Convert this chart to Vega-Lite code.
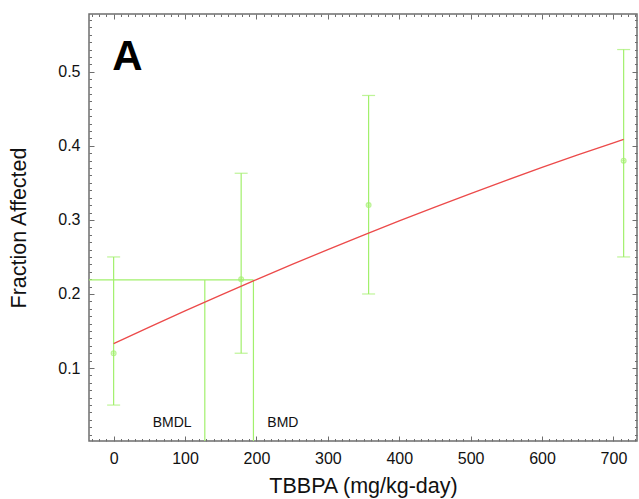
{
  "$schema": "https://vega.github.io/schema/vega-lite/v6.json",
  "width": 548,
  "height": 427,
  "autosize": {"type": "none"},
  "padding": {"left": 89, "top": 14, "right": 2, "bottom": 58},
  "background": "white",
  "config": {
    "view": {"stroke": "#6e6e6e", "strokeWidth": 1.5},
    "font": "Liberation Sans",
    "axis": {"grid": false, "domain": false, "tickColor": "#6e6e6e", "labelFont": "Liberation Sans", "titleFont": "Liberation Sans", "labelColor": "#111", "titleColor": "#111", "labelFontSize": 16, "titleFontSize": 21.5, "titleFontWeight": "normal"}
  },
  "datasets": {
    "pts": [
      {"dose": 0, "frac": 0.12, "lo": 0.05, "hi": 0.25},
      {"dose": 178.6, "frac": 0.22, "lo": 0.12, "hi": 0.363},
      {"dose": 357.1, "frac": 0.32, "lo": 0.2, "hi": 0.468},
      {"dose": 714.3, "frac": 0.38, "lo": 0.25, "hi": 0.53}
    ],
    "fit": [
      {"dose": 0, "frac": 0.133},
      {"dose": 50, "frac": 0.1553},
      {"dose": 100, "frac": 0.1771},
      {"dose": 150, "frac": 0.1985},
      {"dose": 200, "frac": 0.2194},
      {"dose": 250, "frac": 0.2399},
      {"dose": 300, "frac": 0.2599},
      {"dose": 350, "frac": 0.2795},
      {"dose": 400, "frac": 0.2987},
      {"dose": 450, "frac": 0.3174},
      {"dose": 500, "frac": 0.3356},
      {"dose": 550, "frac": 0.3534},
      {"dose": 600, "frac": 0.3708},
      {"dose": 650, "frac": 0.3877},
      {"dose": 700, "frac": 0.4041},
      {"dose": 714.3, "frac": 0.4087}
    ],
    "bmr": [{"x1": -34.5, "x2": 195.8, "y": 0.219}],
    "bmdlines": [
      {"name": "BMDL", "dose": 127.7, "y1": 0.0015, "y2": 0.219},
      {"name": "BMD", "dose": 195.8, "y1": 0.0015, "y2": 0.219}
    ],
    "labels": [
      {"text": "BMDL", "dose": 82, "frac": 0.026},
      {"text": "BMD", "dose": 237, "frac": 0.026}
    ],
    "panel": [{"text": "A", "dose": -2, "frac": 0.503}]
  },
  "resolve": {"axis": {"x": "independent", "y": "independent"}},
  "layer": [
    {
      "data": {"name": "pts"},
      "mark": {"type": "rule", "color": "#a2f06c", "strokeWidth": 1.2},
      "encoding": {
        "x": {"field": "dose", "type": "quantitative", "scale": {"domain": [-34.5, 733], "nice": false, "zero": false},
          "axis": {"orient": "bottom", "values": [0, 100, 200, 300, 400, 500, 600, 700], "tickSize": -5, "labelPadding": 14, "title": "TBBPA (mg/kg-day)", "titlePadding": 9, "labelFlush": false}},
        "y": {"field": "lo", "type": "quantitative", "scale": {"domain": [0.0015, 0.578], "nice": false, "zero": false},
          "axis": {"orient": "left", "values": [0.1, 0.2, 0.3, 0.4, 0.5], "format": ".1f", "tickSize": -5, "labelPadding": 14, "title": "Fraction Affected", "titlePadding": 27, "labelFlush": false}},
        "y2": {"field": "hi"}
      }
    },
    {
      "data": {"name": "pts"},
      "mark": {"type": "tick", "color": "#a2f06c", "thickness": 1.2, "size": 13, "orient": "horizontal"},
      "encoding": {
        "x": {"field": "dose", "type": "quantitative", "scale": {"domain": [-34.5, 733], "nice": false, "zero": false},
          "axis": {"orient": "bottom", "values": [-30, -20, -10, 10, 20, 30, 40, 50, 60, 70, 80, 90, 110, 120, 130, 140, 150, 160, 170, 180, 190, 210, 220, 230, 240, 250, 260, 270, 280, 290, 310, 320, 330, 340, 350, 360, 370, 380, 390, 410, 420, 430, 440, 450, 460, 470, 480, 490, 510, 520, 530, 540, 550, 560, 570, 580, 590, 610, 620, 630, 640, 650, 660, 670, 680, 690, 710, 720, 730], "tickSize": -2.5, "labels": false, "title": null}},
        "y": {"field": "hi", "type": "quantitative", "scale": {"domain": [0.0015, 0.578], "nice": false, "zero": false},
          "axis": {"orient": "left", "values": [0.01, 0.02, 0.03, 0.04, 0.05, 0.06, 0.07, 0.08, 0.09, 0.11, 0.12, 0.13, 0.14, 0.15, 0.16, 0.17, 0.18, 0.19, 0.21, 0.22, 0.23, 0.24, 0.25, 0.26, 0.27, 0.28, 0.29, 0.31, 0.32, 0.33, 0.34, 0.35, 0.36, 0.37, 0.38, 0.39, 0.41, 0.42, 0.43, 0.44, 0.45, 0.46, 0.47, 0.48, 0.49, 0.51, 0.52, 0.53, 0.54, 0.55, 0.56, 0.57], "tickSize": -2.5, "labels": false, "title": null}}
      }
    },
    {
      "data": {"name": "pts"},
      "mark": {"type": "tick", "color": "#a2f06c", "thickness": 1.2, "size": 13, "orient": "horizontal"},
      "encoding": {
        "x": {"field": "dose", "type": "quantitative", "scale": {"domain": [-34.5, 733], "nice": false, "zero": false},
          "axis": {"orient": "top", "values": [0, 100, 200, 300, 400, 500, 600, 700], "tickSize": -5, "labels": false, "title": null}},
        "y": {"field": "lo", "type": "quantitative", "scale": {"domain": [0.0015, 0.578], "nice": false, "zero": false},
          "axis": {"orient": "right", "values": [0.1, 0.2, 0.3, 0.4, 0.5], "tickSize": -5, "labels": false, "title": null}}
      }
    },
    {
      "data": {"name": "bmr"},
      "mark": {"type": "rule", "color": "#a2f06c", "strokeWidth": 1.2, "clip": true},
      "encoding": {
        "x": {"field": "x1", "type": "quantitative", "scale": {"domain": [-34.5, 733], "nice": false, "zero": false}, "axis": null},
        "x2": {"field": "x2"},
        "y": {"field": "y", "type": "quantitative", "scale": {"domain": [0.0015, 0.578], "nice": false, "zero": false}, "axis": null}
      }
    },
    {
      "data": {"name": "bmdlines"},
      "mark": {"type": "rule", "color": "#a2f06c", "strokeWidth": 1.2, "clip": true},
      "encoding": {
        "x": {"field": "dose", "type": "quantitative", "scale": {"domain": [-34.5, 733], "nice": false, "zero": false}, "axis": null},
        "y": {"field": "y1", "type": "quantitative", "scale": {"domain": [0.0015, 0.578], "nice": false, "zero": false}, "axis": null},
        "y2": {"field": "y2"}
      }
    },
    {
      "data": {"name": "fit"},
      "mark": {"type": "line", "color": "#ec4a4a", "strokeWidth": 1.3, "interpolate": "monotone"},
      "encoding": {
        "x": {"field": "dose", "type": "quantitative", "scale": {"domain": [-34.5, 733], "nice": false, "zero": false}, "axis": null},
        "y": {"field": "frac", "type": "quantitative", "scale": {"domain": [0.0015, 0.578], "nice": false, "zero": false}, "axis": null}
      }
    },
    {
      "data": {"name": "pts"},
      "mark": {"type": "point", "shape": "circle", "filled": false, "color": "#a2f06c", "size": 22, "strokeWidth": 1.3},
      "encoding": {
        "x": {"field": "dose", "type": "quantitative", "scale": {"domain": [-34.5, 733], "nice": false, "zero": false},
          "axis": {"orient": "top", "values": [-30, -20, -10, 10, 20, 30, 40, 50, 60, 70, 80, 90, 110, 120, 130, 140, 150, 160, 170, 180, 190, 210, 220, 230, 240, 250, 260, 270, 280, 290, 310, 320, 330, 340, 350, 360, 370, 380, 390, 410, 420, 430, 440, 450, 460, 470, 480, 490, 510, 520, 530, 540, 550, 560, 570, 580, 590, 610, 620, 630, 640, 650, 660, 670, 680, 690, 710, 720, 730], "tickSize": -2.5, "labels": false, "title": null}},
        "y": {"field": "frac", "type": "quantitative", "scale": {"domain": [0.0015, 0.578], "nice": false, "zero": false},
          "axis": {"orient": "right", "values": [0.01, 0.02, 0.03, 0.04, 0.05, 0.06, 0.07, 0.08, 0.09, 0.11, 0.12, 0.13, 0.14, 0.15, 0.16, 0.17, 0.18, 0.19, 0.21, 0.22, 0.23, 0.24, 0.25, 0.26, 0.27, 0.28, 0.29, 0.31, 0.32, 0.33, 0.34, 0.35, 0.36, 0.37, 0.38, 0.39, 0.41, 0.42, 0.43, 0.44, 0.45, 0.46, 0.47, 0.48, 0.49, 0.51, 0.52, 0.53, 0.54, 0.55, 0.56, 0.57], "tickSize": -2.5, "labels": false, "title": null}}
      }
    },
    {
      "data": {"name": "pts"},
      "mark": {"type": "point", "shape": "cross", "filled": true, "color": "#a2f06c", "size": 10, "strokeWidth": 0},
      "encoding": {
        "x": {"field": "dose", "type": "quantitative", "scale": {"domain": [-34.5, 733], "nice": false, "zero": false}, "axis": null},
        "y": {"field": "frac", "type": "quantitative", "scale": {"domain": [0.0015, 0.578], "nice": false, "zero": false}, "axis": null}
      }
    },
    {
      "data": {"name": "labels"},
      "mark": {"type": "text", "font": "Liberation Sans", "fontSize": 14, "color": "#111", "align": "center", "baseline": "middle"},
      "encoding": {
        "x": {"field": "dose", "type": "quantitative", "scale": {"domain": [-34.5, 733], "nice": false, "zero": false}, "axis": null},
        "y": {"field": "frac", "type": "quantitative", "scale": {"domain": [0.0015, 0.578], "nice": false, "zero": false}, "axis": null},
        "text": {"field": "text"}
      }
    },
    {
      "data": {"name": "panel"},
      "mark": {"type": "text", "font": "Liberation Sans", "fontSize": 42, "fontWeight": "bold", "color": "#000", "align": "left", "baseline": "alphabetic"},
      "encoding": {
        "x": {"field": "dose", "type": "quantitative", "scale": {"domain": [-34.5, 733], "nice": false, "zero": false}, "axis": null},
        "y": {"field": "frac", "type": "quantitative", "scale": {"domain": [0.0015, 0.578], "nice": false, "zero": false}, "axis": null},
        "text": {"field": "text"}
      }
    }
  ]
}
